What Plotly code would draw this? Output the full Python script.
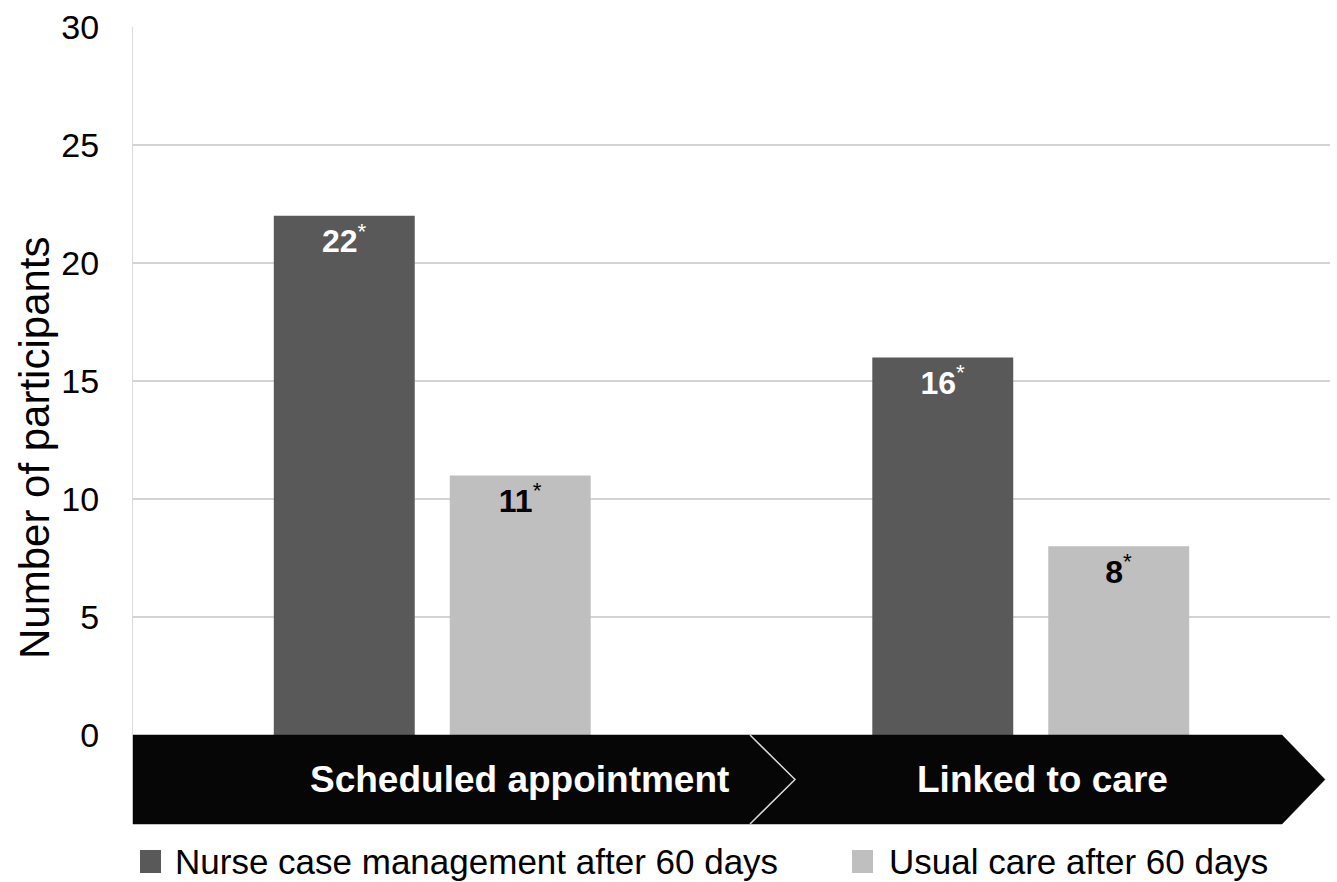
import plotly.graph_objects as go

# ---- data ----
categories = ["Scheduled appointment", "Linked to care"]
series_names = ["Nurse case management after 60 days", "Usual care after 60 days"]
nurse_values = [22, 16]
usual_values = [11, 8]
y_ticks = [0, 5, 10, 15, 20, 25, 30]

# ---- style ----
W, H = 1337, 882
ML, MR, MT, MB = 133, 7, 27, 147
PW, PH = W - ML - MR, H - MT - MB
DARK, LIGHT = "#595959", "#BFBFBF"
FONT = "Liberation Sans"


def px(x):
    return (x - ML) / PW


def py(y):
    return (MT + PH - y) / PH


fig = go.Figure()
fig.add_trace(go.Bar(
    x=categories, y=nurse_values, name=series_names[0],
    marker=dict(color=DARK, line=dict(width=0)),
    text=[f"<b>{v}</b><sup>*</sup>" for v in nurse_values],
    textposition="inside", insidetextanchor="end", textangle=0,
    insidetextfont=dict(color="white", size=32, family=FONT),
    showlegend=False,
))
fig.add_trace(go.Bar(
    x=categories, y=usual_values, name=series_names[1],
    marker=dict(color=LIGHT, line=dict(width=0)),
    text=[f"<b>{v}</b><sup>*</sup>" for v in usual_values],
    textposition="inside", insidetextanchor="end", textangle=0,
    insidetextfont=dict(color="black", size=32, family=FONT),
    showlegend=False,
))

top, bot, mid = py(735), py(824), py(779.5)
shapes = []
# chevron 1
shapes.append(dict(
    type="path", xref="paper", yref="paper", layer="above",
    path=f"M {px(133)},{top} L {px(750)},{top} L {px(795)},{mid} L {px(750)},{bot} L {px(133)},{bot} Z",
    fillcolor="#060606", line=dict(color="#060606", width=0.5),
))
# chevron 2
shapes.append(dict(
    type="path", xref="paper", yref="paper", layer="above",
    path=(f"M {px(750)},{top} L {px(1282)},{top} L {px(1325)},{mid} L {px(1282)},{bot} "
          f"L {px(750)},{bot} L {px(795)},{mid} Z"),
    fillcolor="#060606", line=dict(color="#060606", width=0.5),
))
# separator
shapes.append(dict(
    type="path", xref="paper", yref="paper", layer="above",
    path=f"M {px(750)},{top} L {px(795)},{mid} L {px(750)},{bot}",
    line=dict(color="#d8d8d8", width=1.5),
))
# legend squares
shapes.append(dict(type="rect", xref="paper", yref="paper", layer="above",
                   x0=px(140), x1=px(161), y0=py(850), y1=py(873),
                   fillcolor=DARK, line=dict(width=0)))
shapes.append(dict(type="rect", xref="paper", yref="paper", layer="above",
                   x0=px(852), x1=px(873), y0=py(850), y1=py(873),
                   fillcolor=LIGHT, line=dict(width=0)))

annotations = [
    dict(text="<b>" + categories[0] + "</b>", x=px(519), y=mid, xref="paper", yref="paper",
         showarrow=False, xanchor="center", yanchor="middle",
         font=dict(family=FONT, size=37, color="white")),
    dict(text="<b>" + categories[1] + "</b>", x=px(1042), y=mid, xref="paper", yref="paper",
         showarrow=False, xanchor="center", yanchor="middle",
         font=dict(family=FONT, size=37, color="white")),
    dict(text=series_names[0], x=px(173), y=py(861), xref="paper", yref="paper",
         showarrow=False, xanchor="left", yanchor="middle",
         font=dict(family=FONT, size=35, color="black")),
    dict(text=series_names[1], x=px(887), y=py(861), xref="paper", yref="paper",
         showarrow=False, xanchor="left", yanchor="middle",
         font=dict(family=FONT, size=35, color="black")),
    dict(text="Number of participants", x=px(34), y=py(448), xref="paper", yref="paper",
         showarrow=False, xanchor="center", yanchor="middle", textangle=-90,
         font=dict(family=FONT, size=42, color="black")),
]

fig.update_layout(
    width=W, height=H,
    margin=dict(l=ML, r=MR, t=MT, b=MB, pad=0),
    paper_bgcolor="white", plot_bgcolor="white",
    barmode="group", bargap=0.412, bargroupgap=0.199,
    shapes=shapes, annotations=annotations,
    showlegend=False,
    font=dict(family=FONT, color="black"),
    xaxis=dict(type="category", range=[-0.5, 1.5], showticklabels=False,
               showgrid=False, zeroline=False, showline=False, ticks=""),
    yaxis=dict(range=[0, 30], tickvals=y_ticks, showgrid=True, gridcolor="#d4d4d4",
               gridwidth=1.5, zeroline=False, showline=True, linecolor="#dcdcdc",
               linewidth=1, ticks="", ticklabelstandoff=26,
               tickfont=dict(family=FONT, size=34, color="black")),
)

fig.write_html("out.html")
